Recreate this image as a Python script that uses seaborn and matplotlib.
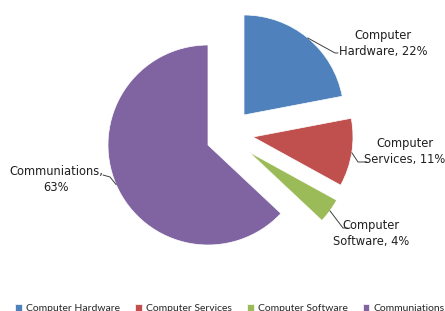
import numpy as np
import matplotlib
matplotlib.use("Agg")
import matplotlib.pyplot as plt
import seaborn as sns

# data
categories = ["Computer Hardware", "Computer Services", "Computer Software", "Communiations"]
shares = [22, 11, 4, 63]
label_texts = ["Computer\nHardware, 22%", "Computer\nServices, 11%",
               "Computer\nSoftware, 4%", "Communiations,\n63%"]

sns.set_style("white")
plt.rcParams['font.family'] = ['DejaVu Sans']
colors = sns.color_palette(["#4F81BD", "#C0504D", "#9BBB59", "#8064A2"])

fig = plt.figure(figsize=(4.45, 3.11), dpi=100)
ax = fig.add_axes([0, 0, 1, 1])

wedges, _ = ax.pie(shares, colors=colors, startangle=90, counterclock=False,
                   radius=1, wedgeprops=dict(linewidth=0.5, edgecolor="white"))

# Excel-style explosion offsets for the three small slices
offsets = [(0.36, 0.30), (0.45, 0.08), (0.41, -0.07), (0, 0)]
for w, (dx, dy) in zip(wedges, offsets):
    w.set_center((dx, dy))

ax.set_xlim(-2.08, 2.37)
ax.set_ylim(-1.66, 1.45)
ax.set_aspect("equal")
ax.axis("off")

# label positions and leader elbows (data units)
text_pos = [(1.75, 1.02), (1.97, -0.07), (1.63, -0.89), (-1.52, -0.35)]
elbows = [((1.27, 0.92), (1.30, 0.92)),
          ((1.50, -0.17), (1.59, -0.17)),
          ((1.35, -0.83), (1.40, -0.83)),
          ((-0.98, -0.32), (-1.05, -0.30))]

for w, txt, pos, (e1, e2) in zip(wedges, label_texts, text_pos, elbows):
    mid = np.deg2rad((w.theta1 + w.theta2) / 2)
    cx, cy = w.center
    px, py = cx + w.r * np.cos(mid), cy + w.r * np.sin(mid)
    ax.plot([px, e1[0], e2[0]], [py, e1[1], e2[1]], color="#404040", lw=0.7)
    ax.text(pos[0], pos[1], txt, ha="center", va="center", fontsize=8.3,
            multialignment="center", color="#202020", linespacing=1.3)

fig.legend(wedges, categories, loc="lower left", ncol=4, frameon=False,
           prop={"family": "Lato", "size": 7.5}, handlelength=0.6, handleheight=0.6,
           handletextpad=0.4, columnspacing=1.5, borderaxespad=0,
           bbox_to_anchor=(0.025, -0.02))

fig.savefig("out.png", dpi=100)
